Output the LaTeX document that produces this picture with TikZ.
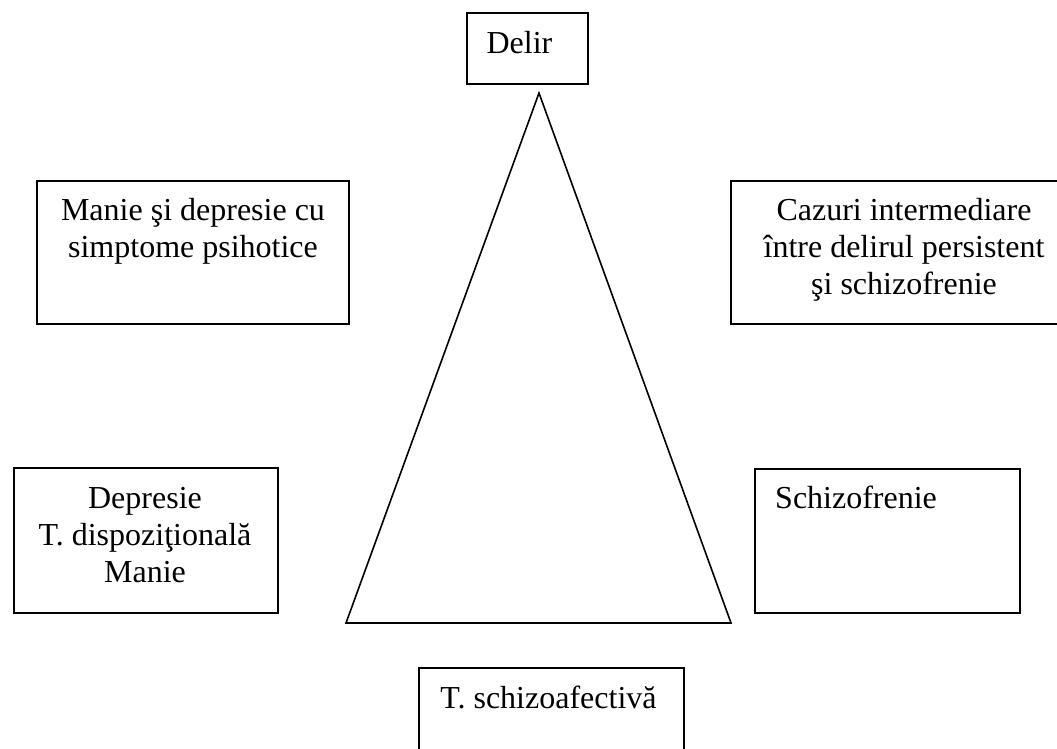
\documentclass[tikz,border=0pt]{standalone}
\usepackage{fontspec}
\setmainfont{Liberation Serif}
\begin{document}
\begin{tikzpicture}[x=1pt,y=-1pt,
  box/.style={draw=black,line width=2pt,anchor=north west,inner sep=0pt,rectangle},
  lbl/.style={inner sep=0pt,anchor=north,align=center,font=\fontsize{32}{37}\selectfont},
  tri/.style={draw=black,line width=1.6pt,line join=miter}]
\path[use as bounding box] (0,0) rectangle (1057,749);
\clip (0,0) rectangle (1057,749);
\fill[white] (0,0) rectangle (1057,749);
% boxes
\node[box,minimum width=121pt,minimum height=71pt] (delirbox) at (466,12) {};
\node[box,minimum width=312pt,minimum height=143pt] (maniebox) at (36,180) {};
\node[box,minimum width=350pt,minimum height=143pt] (cazbox) at (730,180) {};
\node[box,minimum width=264pt,minimum height=145pt] (deprbox) at (13,467) {};
\node[box,minimum width=265pt,minimum height=144pt] (schbox) at (754,468) {};
\node[box,minimum width=265pt,minimum height=100pt] (schafbox) at (418,667) {};
% texts
\node[lbl] (delir) at (519.5,27.1) {\strut Delir};
\node[lbl] (manie) at (193,194.1) {\strut Manie şi depresie cu\\simptome psihotice};
\node[lbl] (caz) at (904,194.1) {\strut Cazuri intermediare\\între delirul persistent\\şi schizofrenie};
\node[lbl] (depr) at (145,482.1) {\strut Depresie\\T. dispoziţională \\Manie};
\node[lbl,anchor=north west,align=left] (sch) at (775,482.1) {\strut Schizofrenie};
\node[lbl] (schaf) at (548.5,682.1) {\strut T. schizoafectivă};
% triangle
\coordinate (apex) at (539,93);
\coordinate (bl) at (346,623);
\coordinate (br) at (731,623);
\draw[tri] (apex) -- (bl) -- (br) -- cycle;
\end{tikzpicture}
\end{document}
